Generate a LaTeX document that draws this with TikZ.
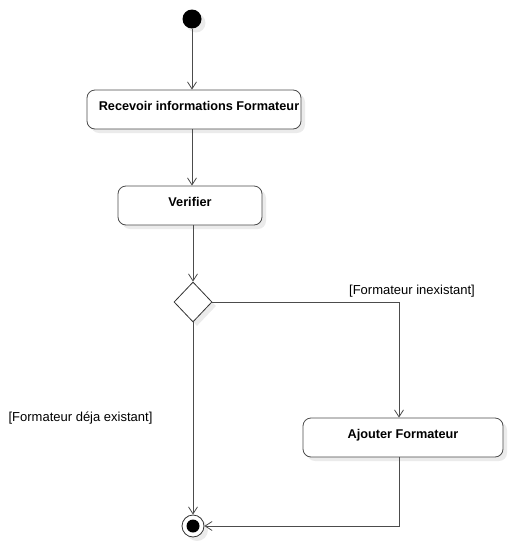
\documentclass[tikz,border=0pt]{standalone}
\usepackage{fontspec}
\setmainfont{Liberation Sans}
\usetikzlibrary{shapes.geometric,arrows.meta,shadows}

\tikzset{
  ombra/.style={drop shadow={shadow xshift=4pt,shadow yshift=-4pt,fill=black!8,opacity=1}},
  attivita/.style={draw=black!70,thick,fill=white,rounded corners=8pt,ombra,
    minimum height=39pt,text height=9pt,text depth=8pt,
    font=\fontsize{12.7}{15}\selectfont\bfseries},
  freccia/.style={black!70,thick,-{Straight Barb[length=7pt,width=9pt]}},
  guardia/.style={font=\fontsize{13}{15}\selectfont}
}

\begin{document}
\begin{tikzpicture}[x=1pt,y=-1pt]
   \useasboundingbox (0,0) rectangle (513,549);
   %nodi
   \node[circle,fill=black,minimum size=19pt,inner sep=0pt,ombra] (inizio) at (192,19) {};
   \node[attivita,minimum width=214pt,inner xsep=0pt] (ricevere) at (194,109.5)
         {\hspace*{10pt}Recevoir informations Formateur};
   \node[attivita,minimum width=144pt] (verificare) at (190,205.5) {Verifier};
   \node[diamond,draw=black!80,thick,fill=white,minimum width=38pt,minimum height=40pt,
         inner sep=0pt,ombra] (scelta) at (193,302) {};
   \node[attivita,minimum width=200pt] (aggiungere) at (403,437.5) {Ajouter Formateur};
   \node[circle,draw=black!80,thick,fill=white,minimum size=22pt,inner sep=0pt,ombra,
         path picture={\fill[black] (path picture bounding box.center) circle (6.5pt);}]
         (fine) at (193,526) {};
   \coordinate (lato) at (399,0);
   %guardie
   \node[guardia] (inesistente) at (412,291) {[Formateur inexistant]};
   \node[guardia] (esistente) at (80.5,418) {[Formateur déja existant]};
   %frecce
   \draw[freccia] (inizio) -- (inizio |- ricevere.north);
   \draw[freccia] (ricevere.south -| inizio) -- (verificare.north -| inizio);
   \draw[freccia] (verificare.south -| scelta) -- (scelta.north);
   \draw[freccia] (scelta.east) -| (aggiungere.north -| lato);
   \draw[freccia] (scelta.south) -- (fine.north);
   \draw[freccia] (aggiungere.south -| lato) |- (fine.east);
\end{tikzpicture}
\end{document}
